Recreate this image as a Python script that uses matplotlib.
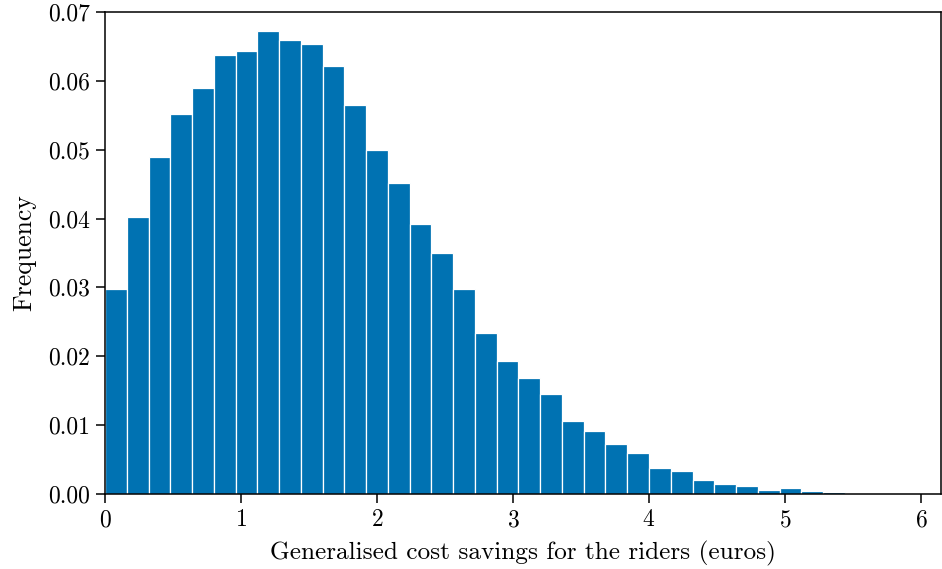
import numpy as np
import matplotlib.pyplot as plt

plt.rcParams['font.family'] = 'serif'
plt.rcParams['font.serif'] = ['cmr10']
plt.rcParams['mathtext.fontset'] = 'cm'
plt.rcParams['axes.formatter.use_mathtext'] = True

# Relative frequency per bin of generalised cost savings (euros)
bin_width = 0.16
bin_left = np.arange(39) * bin_width
frequency = [0.0298, 0.0402, 0.0490, 0.0552, 0.0590, 0.0637, 0.0643, 0.0672,
             0.0659, 0.0654, 0.0622, 0.0565, 0.0499, 0.0451, 0.0392, 0.0350,
             0.0297, 0.0234, 0.0193, 0.0169, 0.0145, 0.0106, 0.0091, 0.0072,
             0.0060, 0.0038, 0.0034, 0.0021, 0.0014, 0.0012, 0.0006, 0.0009,
             0.0005, 0.0003, 0.0001, 0.0001, 0.00005, 0.00005, 0.00003]

fig = plt.figure(figsize=(9.42, 5.69), dpi=100)
ax = fig.add_axes([105 / 942, 1 - 494 / 569, 836 / 942, 482 / 569])

ax.bar(bin_left, frequency, width=bin_width, align='edge',
       color='#0072B2', edgecolor='white', linewidth=0.9)

ax.set_xlim(0, 6.147)
ax.set_ylim(0, 0.07)
ax.set_xticks(range(7))
ax.set_yticks(np.arange(0, 0.071, 0.01))
ax.set_yticklabels([f'{v:.2f}' for v in np.arange(0, 0.071, 0.01)])

ax.set_xlabel('Generalised cost savings for the riders (euros)', fontsize=18.2, labelpad=7)
ax.set_ylabel('Frequency', fontsize=18.5, labelpad=8)
ax.tick_params(labelsize=17, length=6.5, width=1.1, pad=4.5, direction='out')
for s in ax.spines.values():
    s.set_linewidth(1.1)

plt.savefig('out.png', dpi=100)
